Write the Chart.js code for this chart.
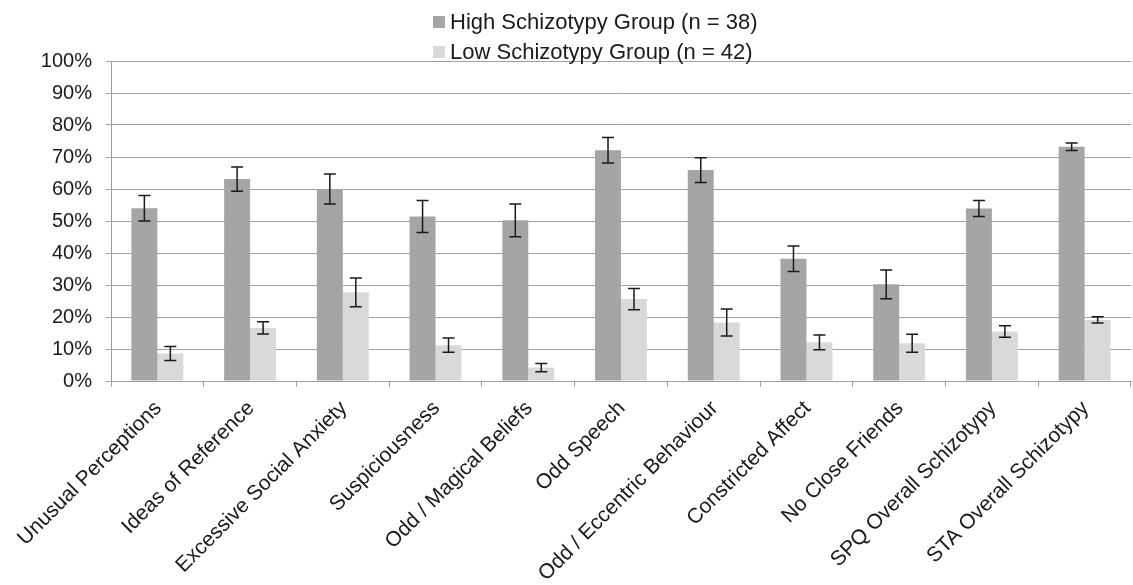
<!DOCTYPE html>
<html>
<head>
<meta charset="utf-8">
<script src="https://cdn.jsdelivr.net/npm/chart.js@4"></script>
<style>
    html, body { margin: 0; padding: 0; background: #fff; }
    #wrap { position: relative; width: 1133px; height: 585px; }
    #legend {
        position: absolute; left: 433px; top: 7px;
        font-family: 'Liberation Sans', Arial, sans-serif; font-size: 22px; color: #1a1a1a;
    }
    #legend .row { display: flex; align-items: center; height: 30px; }
    #legend .box { width: 12px; height: 12px; margin-right: 5px; }
</style>
</head>
<body>
<div id="wrap">
    <canvas id="chart" width="1133" height="585"></canvas>
    <div id="legend"></div>
</div>
<script>
// Categories and group means / error bars (percent)
const categories = [
    'Unusual Perceptions', 'Ideas of Reference', 'Excessive Social Anxiety',
    'Suspiciousness', 'Odd / Magical Beliefs', 'Odd Speech',
    'Odd / Eccentric Behaviour', 'Constricted Affect', 'No Close Friends',
    'SPQ Overall Schizotypy', 'STA Overall Schizotypy'
];
const seriesNames = ['High Schizotypy Group (n = 38)', 'Low Schizotypy Group (n = 42)'];
const highValues = [54.0, 63.1, 60.0, 51.4, 50.2, 72.1, 65.9, 38.2, 30.2, 53.9, 73.2];
const highErrors = [4.0, 3.8, 4.7, 5.0, 5.1, 4.0, 3.9, 4.0, 4.5, 2.5, 1.2];
const lowValues = [8.6, 16.6, 27.7, 11.2, 4.2, 25.6, 18.3, 12.1, 11.8, 15.5, 19.1];
const lowErrors = [2.2, 1.9, 4.5, 2.2, 1.3, 3.3, 4.2, 2.3, 2.8, 1.8, 1.0];
const yTicks = [0, 10, 20, 30, 40, 50, 60, 70, 80, 90, 100];

const colors = {
    high: '#a5a5a5',
    low: '#d9d9d9',
    text: '#1a1a1a',
    grid: '#a0a0a0',
    err: '#1a1a1a'
};
const FONT = "'Liberation Sans', Arial, sans-serif";

// error bars drawn through the y scale
const errorBarPlugin = {
    id: 'errorBars',
    afterDatasetsDraw(chart) {
        const ctx = chart.ctx;
        const y = chart.scales.y;
        ctx.save();
        ctx.strokeStyle = colors.err;
        ctx.lineWidth = 1.5;
        chart.data.datasets.forEach((ds, i) => {
            const meta = chart.getDatasetMeta(i);
            meta.data.forEach((bar, j) => {
                const v = ds.data[j], e = ds.errors[j];
                const top = y.getPixelForValue(v + e);
                const bot = y.getPixelForValue(v - e);
                const cap = 6;
                ctx.beginPath();
                ctx.moveTo(bar.x, top); ctx.lineTo(bar.x, bot);
                ctx.moveTo(bar.x - cap, top); ctx.lineTo(bar.x + cap, top);
                ctx.moveTo(bar.x - cap, bot); ctx.lineTo(bar.x + cap, bot);
                ctx.stroke();
            });
        });
        ctx.restore();
    }
};

const datasets = [
    { label: seriesNames[0], data: highValues, errors: highErrors, backgroundColor: colors.high },
    { label: seriesNames[1], data: lowValues, errors: lowErrors, backgroundColor: colors.low }
];

// html legend, stacked like the original
const legendEl = document.getElementById('legend');
datasets.forEach(ds => {
    const row = document.createElement('div');
    row.className = 'row';
    row.innerHTML = `<span class="box" style="background:${ds.backgroundColor}"></span><span>${ds.label}</span>`;
    legendEl.appendChild(row);
});

new Chart(document.getElementById('chart'), {
    type: 'bar',
    data: {
        labels: categories,
        datasets: datasets.map(ds => ({
            ...ds,
            borderWidth: 0,
            categoryPercentage: 0.56,
            barPercentage: 1.0
        }))
    },
    options: {
        responsive: false,
        animation: false,
        layout: { padding: { top: 61, right: 2, left: 0, bottom: 0 } },
        scales: {
            y: {
                min: 0,
                max: 100,
                afterBuildTicks: (scale) => { scale.ticks = yTicks.map(v => ({ value: v })); },
                afterFit: (scale) => { scale.width = 111; },
                ticks: {
                    callback: (v) => v + '%',
                    color: colors.text,
                    font: { family: FONT, size: 20 },
                    padding: 14
                },
                grid: { color: colors.grid, tickLength: 5, lineWidth: 1 },
                border: { color: colors.grid, width: 1 }
            },
            x: {
                afterFit: (scale) => { scale.height = 204; },
                ticks: {
                    color: colors.text,
                    font: { family: FONT, size: 21 },
                    maxRotation: 45,
                    minRotation: 45,
                    autoSkip: false,
                    padding: 9,
                    labelOffset: 1
                },
                grid: { drawOnChartArea: false, color: colors.grid, tickLength: 6, offset: true },
                border: { color: colors.grid, width: 1 }
            }
        },
        plugins: {
            legend: { display: false },
            tooltip: { enabled: false }
        }
    },
    plugins: [errorBarPlugin]
});
</script>
</body>
</html>
